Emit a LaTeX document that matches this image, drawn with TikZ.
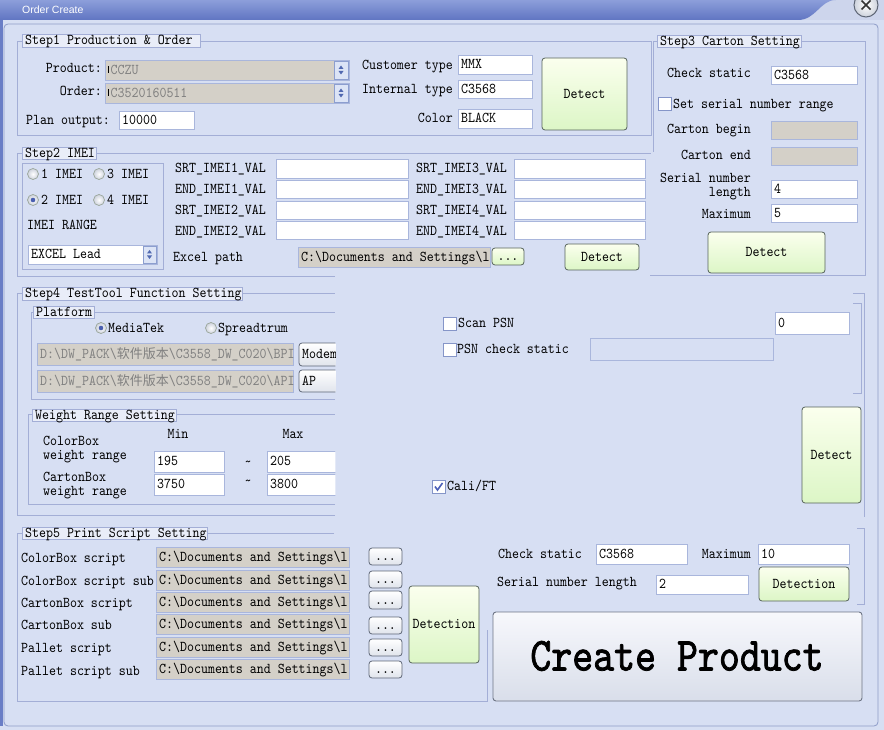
\documentclass[tikz,border=0pt]{standalone}
\usepackage{fontspec}
\newfontfamily\uifont{lmmono10-regular.otf}[FakeStretch=0.886]
\newfontfamily\bigfont{lmmono10-regular.otf}[FakeStretch=0.84,FakeBold=1.6]
\newfontfamily\cjkfont{Noto Sans CJK SC}
\newfontfamily\titlefont{Liberation Sans}
\newcommand\ui{\uifont\fontsize{15}{16}\selectfont}
\newcommand\cjk[1]{{\cjkfont\fontsize{13}{13}\selectfont #1}}
\newcommand\bs{\textbackslash}
\definecolor{bg}{HTML}{D7DFF3}
\definecolor{grpline}{HTML}{A3AED6}
\definecolor{gtfill}{HTML}{E9EDF8}
\definecolor{fline}{HTML}{A9B6DC}
\definecolor{disfill}{HTML}{D4D0C8}
\definecolor{distext}{HTML}{808080}
\definecolor{btnline}{HTML}{56635A}
\definecolor{gtop}{HTML}{FBFFEE}
\definecolor{gbot}{HTML}{DCF6C6}
\definecolor{wbot}{HTML}{E0E4EC}
\definecolor{wline}{HTML}{5E6676}
\definecolor{cpline}{HTML}{6E7585}
\definecolor{cptop}{HTML}{F7F8FC}
\definecolor{cpbot}{HTML}{D9DEEA}
\definecolor{tbtop}{HTML}{8C9EDA}
\definecolor{tbbot}{HTML}{6075C2}
\definecolor{tbright}{HTML}{CDD5EC}
\definecolor{frame}{HTML}{8E9CC8}
\definecolor{leftb}{HTML}{6A7EC6}
\definecolor{radline}{HTML}{9AA69A}
\definecolor{radout}{HTML}{CDD2DC}
\definecolor{radsel}{HTML}{4A5FB0}
\definecolor{chkline}{HTML}{8595C8}
\definecolor{chkmark}{HTML}{4C60B8}
\definecolor{arrline}{HTML}{8C9ECF}
\definecolor{arrfill}{HTML}{DCE4F6}
\definecolor{arrblue}{HTML}{5068B0}
\newcommand\fld[7]{\path[#2] (#3,#4) rectangle (#5,#6); \node[lbl] (#1) at ({#3+3},{(#4+#6)/2}) {#7};}
\newcommand\btn[7]{\path[#2] (#3,#4) rectangle (#5,#6); \node[clbl] (#1) at ({(#3+#5)/2},{(#4+#6)/2}) {#7};}
\newcommand\gtitle[6]{\path[gtbox] (#2,#3) rectangle (#4,#5); \node[lbl] (#1) at ({#2+3},{(#3+#5)/2}) {#6};}
\newcommand\radio[3]{\shadedraw[inner color=white, outer color=radout, draw=radline, line width=0.7pt] (#1,#2) circle (5.5);
  \ifnum#3=1 \fill[radsel] (#1,#2) circle (2.3);\fi}
\newcommand\chk[3]{\path[draw=chkline, fill=white, line width=0.8pt] (#1,#2) rectangle ++(13,13);
  \ifnum#3=1 \draw[chkmark, line width=1.6pt] ({#1+3},{#2+6.5}) -- ({#1+5.5},{#2+10}) -- ({#1+10.5},{#2+3});\fi}
\newcommand\cmbarrow[4]{\path[draw=arrline, fill=arrfill, line width=0.7pt] (#1,#2) rectangle (#3,#4);
  \pgfmathsetmacro\cx{(#1+#3)/2}\pgfmathsetmacro\cy{(#2+#4)/2}
  \fill[arrblue] (\cx-2.5,\cy-1) -- (\cx+2.5,\cy-1) -- (\cx,\cy-4.5) -- cycle;
  \fill[arrblue] (\cx-2.5,\cy+1) -- (\cx+2.5,\cy+1) -- (\cx,\cy+4.5) -- cycle;}
\begin{document}
\begin{tikzpicture}[x=1pt,y=-1pt,
  lbl/.style={anchor=west, inner sep=0pt, font=\ui, text height=8.5pt, text depth=0pt},
  rlbl/.style={anchor=east, inner sep=0pt, font=\ui, text height=8.5pt, text depth=0pt},
  clbl/.style={anchor=center, inner sep=0pt, font=\ui, text height=8.5pt, text depth=0pt},
  grp/.style={draw=grpline, line width=0.8pt},
  gtbox/.style={draw=grpline, fill=gtfill, line width=0.8pt},
  fbox/.style={draw=fline, fill=white, line width=0.8pt},
  ebox/.style={draw=fline, fill=bg, line width=0.8pt},
  gbox/.style={draw=fline, fill=disfill, line width=0.8pt},
  gbtn/.style={draw=btnline, rounded corners=3pt, top color=gtop, bottom color=gbot, line width=0.8pt},
  wbtn/.style={draw=wline, rounded corners=3pt, top color=white, bottom color=wbot, line width=0.8pt},
  cpbtn/.style={draw=cpline, rounded corners=3pt, top color=cptop, bottom color=cpbot, line width=0.9pt},
  bigl/.style={anchor=center, inner sep=0pt, font=\bigfont\fontsize{47.5}{48}\selectfont, text height=29pt, text depth=0pt}]
\useasboundingbox (0,0) rectangle (884,730);
\fill[bg] (0,0) rectangle (884,730);
% title bar
\fill[tbright] (836,0) .. controls (820,0) and (816,20) .. (798,20) -- (884,20) -- (884,0) -- cycle;
\shade[top color=tbtop, bottom color=tbbot] (0,0) -- (836,0) .. controls (820,0) and (816,20) .. (798,20) -- (0,20) -- cycle;
\node[anchor=west, inner sep=0pt, font=\titlefont\fontsize{10.5}{12}\selectfont, text=white] (title) at (22,10) {Order Create};
\shadedraw[inner color=white, outer color=radout, draw=wline, line width=1pt] (866,5) circle (12);
\draw[black!80, line width=1.7pt] (861.5,0.5) -- (870.5,9.5) (870.5,0.5) -- (861.5,9.5);
% window frame
\draw[frame, line width=0.8pt, rounded corners=4pt] (4,24) rectangle (878,726);
\draw[leftb, line width=2.5pt] (1.3,20) -- (1.3,726);
% ---------- group frames
\draw[grp] (17,41) rectangle (651,135);
\draw[grp] (653,152) -- (653,41) -- (865,41) -- (865,275) -- (650,275);
\draw[grp] (335,276) -- (17,276) -- (17,153) -- (651,153);
\draw[grp] (22,163) rectangle (163,269);
\draw[grp] (335,515) -- (17,515) -- (17,293) -- (335,293);
\draw[grp] (335,399) -- (31,399) -- (31,312) -- (335,312);
\draw[grp] (335,504) -- (28,504) -- (28,414) -- (335,414);
\draw[grp] (853,293) -- (864,293) -- (864,517);
\draw[grp] (853,303) -- (861,303) -- (861,393) -- (853,393);
\draw[grp] (334,533) -- (17,533) -- (17,701) -- (487,701) -- (487,630);
\draw[grp] (857,528) -- (864,528) -- (864,604) -- (857,604);
% group titles
\gtitle{t1}{22}{34}{200}{47}{Step1 Production \& Order}
\gtitle{t3}{657}{35}{801}{47}{Step3 Carton Setting}
\gtitle{t2}{22}{147}{96}{159}{Step2 IMEI}
\gtitle{t4}{22}{287}{242}{300}{Step4 TestTool Function Setting}
\gtitle{tp}{33}{306}{94}{318}{Platform}
\gtitle{tw}{32}{409}{176}{421}{Weight Range Setting}
\gtitle{t5}{22}{527}{207}{539}{Step5 Print Script Setting}
% ---------- Step1
\node[rlbl] (lprod) at (102,68) {Product:};
\fld{prod}{gbox}{105}{60}{349}{80}{\color{distext}\,CCZU}
\draw[black, line width=0.8pt] (108,66) -- (108,73);
\cmbarrow{334}{61}{348}{79}
\node[rlbl] (lord) at (102,91) {Order:};
\fld{ord}{gbox}{105}{83}{349}{103}{\color{distext}\,C3520160511}
\draw[black, line width=0.8pt] (108,89) -- (108,96);
\cmbarrow{334}{84}{348}{102}
\node[lbl] (lplan) at (26,120) {Plan output:};
\fld{plan}{fbox}{119}{111}{194}{129}{10000}
\node[rlbl] (lcust) at (453,65) {Customer type};
\fld{cust}{fbox}{458}{55}{532}{74}{MMX}
\node[rlbl] (lint) at (453,89) {Internal type};
\fld{int}{fbox}{458}{80}{532}{98}{C3568}
\node[rlbl] (lcol) at (453,118) {Color};
\fld{col}{fbox}{458}{109}{532}{128}{BLACK}
\btn{det1}{gbtn}{542}{58}{627}{130}{Detect}
% ---------- Step3
\node[lbl] (lcs3) at (667,73) {Check static};
\fld{cs3}{fbox}{771}{66}{857}{84}{C3568}
\chk{658}{97}{0}
\node[lbl] (lssr) at (673,104) {Set serial number range};
\node[rlbl] (lcb) at (751,129) {Carton begin};
\fld{cb}{gbox}{771}{121}{857}{139}{}
\node[rlbl] (lce) at (751,155) {Carton end};
\fld{ce}{gbox}{771}{147}{857}{165}{}
\node[rlbl] (lsn3a) at (751,178) {Serial number};
\node[rlbl] (lsn3b) at (751,192) {length};
\fld{sn3}{fbox}{771}{180}{857}{198}{4}
\node[rlbl] (lmx3) at (751,214) {Maximum};
\fld{mx3}{fbox}{771}{204}{857}{222}{5}
\btn{det3}{gbtn}{708}{232}{825}{273}{Detect}
% ---------- Step2
\radio{33}{174}{0} \node[lbl] (r1) at (41,174) {1 IMEI};
\radio{99}{174}{0} \node[lbl] (r3) at (107,174) {3 IMEI};
\radio{33}{200}{1} \node[lbl] (r2) at (41,200) {2 IMEI};
\radio{99}{200}{0} \node[lbl] (r4) at (107,200) {4 IMEI};
\node[lbl] (lrange) at (27,225) {IMEI RANGE};
\fld{xl}{fbox}{28}{245}{157}{264}{EXCEL Lead}
\cmbarrow{143}{246}{156}{263}
\node[lbl] (ls1) at (175,168) {SRT\_IMEI1\_VAL}; \fld{s1}{fbox}{276}{159}{408}{178}{}
\node[lbl] (le1) at (175,189) {END\_IMEI1\_VAL}; \fld{e1}{fbox}{276}{180}{408}{198}{}
\node[lbl] (ls2) at (175,210) {SRT\_IMEI2\_VAL}; \fld{s2}{fbox}{276}{201}{408}{219}{}
\node[lbl] (le2) at (175,231) {END\_IMEI2\_VAL}; \fld{e2}{fbox}{276}{221}{408}{239}{}
\node[lbl] (ls3) at (416,168) {SRT\_IMEI3\_VAL}; \fld{s3}{fbox}{514}{159}{645}{178}{}
\node[lbl] (le3) at (416,189) {END\_IMEI3\_VAL}; \fld{e3}{fbox}{514}{180}{645}{198}{}
\node[lbl] (ls4) at (416,210) {SRT\_IMEI4\_VAL}; \fld{s4}{fbox}{514}{201}{645}{219}{}
\node[lbl] (le4) at (416,231) {END\_IMEI4\_VAL}; \fld{e4}{fbox}{514}{221}{645}{239}{}
\node[lbl] (lxp) at (173,257) {Excel path};
\fld{xp}{gbox}{298}{247}{490}{267}{C:\bs Documents and Settings\bs l}
\btn{xpb}{gbtn}{492}{248}{524}{265}{...}
\btn{det2}{gbtn}{565}{244}{639}{270}{Detect}
% ---------- Step4
\radio{101}{328}{1} \node[lbl] (rmt) at (108,328) {MediaTek};
\radio{211}{328}{0} \node[lbl] (rsp) at (218,328) {Spreadtrum};
\fld{bpi}{gbox}{37}{343}{293}{365}{\color{distext}D:\bs DW\_PACK\bs\cjk{软件版本}\bs C3558\_DW\_C020\bs BPI}
\fld{api}{gbox}{37}{370}{293}{392}{\color{distext}D:\bs DW\_PACK\bs\cjk{软件版本}\bs C3558\_DW\_C020\bs API}
\begin{scope}
\clip (0,0) rectangle (335.4,730);
\path[wbtn] (299,343) rectangle (350,366); \node[lbl] (modem) at (302,354.5) {Modem};
\path[wbtn] (299,370) rectangle (350,392); \node[lbl] (ap) at (302,381) {AP};
\fld{w205}{fbox}{267}{451}{350}{472}{205}
\fld{w3800}{fbox}{267}{474}{350}{495}{3800}
\end{scope}
\node[clbl] (lmin) at (178,434) {Min};
\node[clbl] (lmax) at (293,434) {Max};
\node[lbl] (lcb1) at (43,441) {ColorBox};
\node[lbl] (lcb2) at (43,455) {weight range};
\fld{w195}{fbox}{154}{451}{224}{472}{195}
\node[clbl] (tl1) at (248,462) {\textasciitilde};
\node[lbl] (lct1) at (43,477) {CartonBox};
\node[lbl] (lct2) at (43,491) {weight range};
\fld{w3750}{fbox}{154}{474}{224}{495}{3750}
\node[clbl] (tl2) at (248,481) {\textasciitilde};
% middle right of step4
\chk{443}{317}{0} \node[lbl] (lscan) at (458,323) {Scan PSN};
\chk{443}{343}{0} \node[lbl] (lpsn) at (457,349) {PSN check static};
\fld{psn}{ebox}{590}{338}{773}{360}{}
\fld{zero}{fbox}{775}{312}{849}{334}{0}
\btn{det4}{gbtn}{802}{407}{861}{503}{Detect}
\chk{432}{480}{1} \node[lbl] (lcali) at (447,486) {Cali/FT};
% ---------- Step5
\node[lbl] (p1) at (21,558) {ColorBox script};
\node[lbl] (p2) at (21,581) {ColorBox script sub};
\node[lbl] (p3) at (21,603) {CartonBox script};
\node[lbl] (p4) at (21,625) {CartonBox sub};
\node[lbl] (p5) at (21,648) {Pallet script};
\node[lbl] (p6) at (21,671) {Pallet script sub};
\fld{f1}{gbox}{156}{547}{349}{567}{C:\bs Documents and Settings\bs l}
\fld{f2}{gbox}{156}{570}{349}{590}{C:\bs Documents and Settings\bs l}
\fld{f3}{gbox}{156}{592}{349}{612}{C:\bs Documents and Settings\bs l}
\fld{f4}{gbox}{156}{614}{349}{634}{C:\bs Documents and Settings\bs l}
\fld{f5}{gbox}{156}{637}{349}{657}{C:\bs Documents and Settings\bs l}
\fld{f6}{gbox}{156}{659}{349}{679}{C:\bs Documents and Settings\bs l}
\btn{b1}{wbtn}{369}{548}{402}{565}{...}
\btn{b2}{wbtn}{369}{571}{402}{588}{...}
\btn{b3}{wbtn}{369}{591}{402}{609}{...}
\btn{b4}{wbtn}{369}{617}{402}{634}{...}
\btn{b5}{wbtn}{369}{639}{402}{656}{...}
\btn{b6}{wbtn}{369}{661}{402}{678}{...}
\btn{det5}{gbtn}{409}{586}{479}{663}{Detection}
% right of step5
\node[lbl] (lcs5) at (498,554) {Check static};
\fld{cs5}{fbox}{596}{544}{687}{564}{C3568}
\node[rlbl] (lmx5) at (751,554) {Maximum};
\fld{mx5}{fbox}{758}{544}{849}{564}{10}
\node[lbl] (lsn5) at (497,582) {Serial number length};
\fld{sn5}{fbox}{656}{575}{748}{594}{2}
\btn{det6}{gbtn}{759}{567}{849}{601}{Detection}
% create product
\path[cpbtn] (493,612) rectangle (862,701);
\node[bigl] (cp) at (677,656) {Create Product};
\end{tikzpicture}
\end{document}
